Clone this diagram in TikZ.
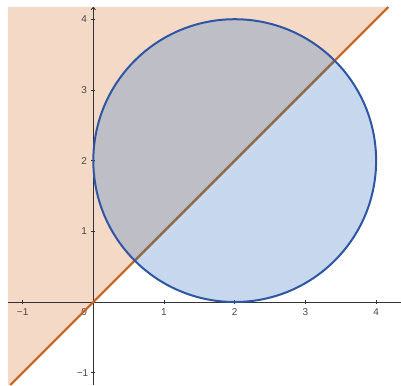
\documentclass[tikz,border=0pt]{standalone}
\usepackage{fontspec}
\setmainfont{Liberation Sans}
\usetikzlibrary{arrows.meta}
\definecolor{ineqfill}{HTML}{F4D9C7}
\definecolor{circfill}{HTML}{C6D7EE}
\definecolor{overfill}{HTML}{BDBEC6}
\definecolor{linecol}{HTML}{C4661F}
\definecolor{lineinside}{HTML}{8C6A4E}
\definecolor{circline}{HTML}{2F56A3}
\definecolor{axiscol}{HTML}{333333}
\definecolor{labelcol}{HTML}{4A4A4A}
\begin{document}
\begin{tikzpicture}[x=70.7pt,y=70.7pt,
  ticklabel/.style={font=\fontsize{10}{12}\selectfont, text=labelcol, inner sep=0pt},
  axisline/.style={draw=axiscol, line width=0.9pt},
  tickmark/.style={draw=axiscol, line width=0.8pt}]
\useasboundingbox (-1.320,-1.174) rectangle (4.352,4.272);
% corners of the graphics view
\coordinate (bl) at (-1.207,-1.174);
\coordinate (lb) at (-1.174,-1.174);
\coordinate (tr) at (4.173,4.173);
\coordinate (tl) at (-1.207,4.173);
\coordinate (xl) at (-1.207,0);
\coordinate (xr) at (4.352,0);
\coordinate (yb) at (0,-1.174);
\coordinate (yt) at (0,4.173);
\coordinate (c) at (2,2);
% inequality region y > x
\fill[ineqfill] (bl) -- (lb) -- (tr) -- (tl) -- cycle;
% circle fill
\fill[circfill] (c) circle[radius=2];
\begin{scope}
  \clip (c) circle[radius=2];
  \fill[overfill] (bl) -- (lb) -- (tr) -- (tl) -- cycle;
\end{scope}
% axes
\draw[axisline] (xl) -- (xr);
\draw[axisline, -{To[length=3pt,width=5pt]}] (yb) -- (yt);
\foreach \i in {-1,1,2,3,4} {
  \draw[tickmark] (\i,-0.03) -- (\i,0.03);
  \draw[tickmark] (-0.03,\i) -- (0.03,\i);
}
\node[ticklabel] (xlabm1) at (-1,-0.137) {−1};
\node[ticklabel] (xlab1) at (1,-0.137) {1};
\node[ticklabel] (xlab2) at (2,-0.137) {2};
\node[ticklabel] (xlab3) at (3,-0.137) {3};
\node[ticklabel] (xlab4) at (4,-0.137) {4};
\node[ticklabel, anchor=east] (ylabm1) at (-0.07,-1) {−1};
\node[ticklabel] (ylab1) at (-0.13,1) {1};
\node[ticklabel] (ylab2) at (-0.13,2) {2};
\node[ticklabel] (ylab3) at (-0.13,3) {3};
\node[ticklabel] (ylab4) at (-0.13,4) {4};
\node[ticklabel] (olab) at (-0.13,-0.137) {0};
% line y = x
\draw[linecol, line width=2pt] (lb) -- (tr);
\begin{scope}
  \clip (c) circle[radius=2];
  \draw[lineinside, line width=2pt] (lb) -- (tr);
\end{scope}
% circle outline
\draw[circline, line width=2pt] (c) circle[radius=2];
\end{tikzpicture}
\end{document}
